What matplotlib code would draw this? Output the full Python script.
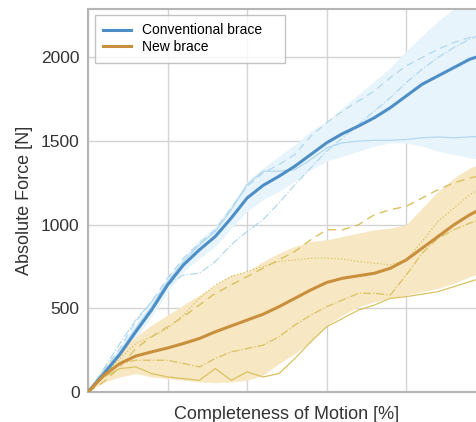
import numpy as np
import matplotlib
matplotlib.use("Agg")
import matplotlib.pyplot as plt

plt.rcParams['font.family'] = ['Liberation Sans', 'DejaVu Sans']

# completeness of motion [%]
x = [0, 4, 8, 12, 16, 20, 24, 28, 32, 36, 40, 44, 48, 52, 56, 60, 64, 68, 72, 76, 80, 84, 88, 92, 96, 100]

# Conventional brace
conv_mean = [0, 110, 225, 360, 491, 640, 760, 850, 930, 1040, 1160, 1235, 1290, 1350, 1420, 1490,
             1545, 1590, 1640, 1700, 1770, 1840, 1890, 1940, 1990, 2020]
conv_upper = [0, 140, 270, 410, 540, 690, 810, 910, 990, 1120, 1260, 1340, 1410, 1480, 1560, 1620,
              1700, 1780, 1860, 1940, 2040, 2130, 2220, 2290, 2330, 2370]
conv_lower = [0, 90, 190, 320, 450, 600, 720, 800, 870, 980, 1080, 1150, 1200, 1260, 1330, 1380,
              1410, 1440, 1470, 1490, 1490, 1470, 1440, 1420, 1400, 1390]
conv_dash = [0, 130, 260, 420, 540, 680, 800, 890, 970, 1100, 1230, 1310, 1360, 1420, 1530, 1610,
             1680, 1740, 1800, 1880, 1950, 2000, 2050, 2090, 2120, 2140]
conv_solid = [0, 120, 240, 380, 510, 660, 780, 880, 960, 1090, 1240, 1320, 1320, 1330, 1390, 1460,
              1490, 1500, 1505, 1505, 1510, 1520, 1525, 1520, 1525, 1530]
conv_dashdot = [0, 140, 290, 430, 540, 640, 700, 710, 780, 880, 960, 1030, 1130, 1240, 1340, 1440,
                1520, 1600, 1680, 1760, 1850, 1930, 2000, 2060, 2110, 2150]

# New brace
new_mean = [0, 100, 170, 215, 240, 263, 290, 320, 360, 395, 430, 465, 510, 560, 610, 655,
            680, 695, 710, 740, 790, 860, 930, 1000, 1060, 1110]
new_upper = [0, 150, 250, 330, 400, 460, 520, 580, 640, 700, 720, 780, 830, 870, 900, 910,
             930, 950, 970, 980, 1000, 1100, 1200, 1280, 1340, 1380]
new_lower = [0, 60, 90, 110, 90, 80, 70, 60, 55, 60, 70, 100, 170, 230, 300, 400,
             460, 510, 540, 560, 580, 600, 620, 650, 690, 720]
new_dash = [0, 60, 150, 260, 330, 390, 450, 520, 590, 640, 690, 740, 790, 840, 910, 970,
            970, 1000, 1060, 1090, 1110, 1160, 1210, 1250, 1280, 1300]
new_dashdot1 = [0, 100, 200, 290, 330, 380, 460, 560, 640, 690, 720, 750, 780, 790, 800, 800,
                795, 780, 770, 760, 790, 900, 1020, 1100, 1180, 1240]
new_dashdot2 = [0, 100, 170, 190, 190, 190, 170, 150, 200, 240, 260, 280, 330, 400, 460, 510,
                550, 590, 590, 580, 700, 830, 920, 970, 1010, 1040]
new_solid = [0, 90, 140, 150, 110, 90, 80, 70, 140, 70, 120, 90, 110, 200, 300, 390,
             440, 490, 520, 560, 570, 585, 600, 630, 660, 690]

blue = "#4d8ec6"
blue_fill = "#e8f4fb"
blue_thin = "#b2d8ee"
orange = "#c98f3c"
orange_fill = "#f7e7c2"
orange_thin = "#d9c261"

fig = plt.figure(figsize=(4.77, 4.22), dpi=100)
ax = fig.add_axes([0.1845, 0.0711, 0.834, 0.9076])

ax.fill_between(x, conv_lower, conv_upper, color=blue_fill, lw=0, zorder=1)
ax.fill_between(x, new_lower, new_upper, color=orange_fill, lw=0, zorder=1)

ax.plot(x, conv_dash, color=blue_thin, lw=0.9, ls=(0, (6, 4)), zorder=2)
ax.plot(x, conv_solid, color=blue_thin, lw=0.9, zorder=2)
ax.plot(x, conv_dashdot, color=blue_thin, lw=0.9, ls='-.', zorder=2)

ax.plot(x, new_dash, color=orange_thin, lw=1.0, ls=(0, (6, 4)), zorder=2)
ax.plot(x, new_dashdot1, color=orange_thin, lw=0.9, ls=':', zorder=2)
ax.plot(x, new_dashdot2, color=orange_thin, lw=0.9, ls='-.', zorder=2)
ax.plot(x, new_solid, color=orange_thin, lw=0.9, zorder=2)

ax.plot(x, conv_mean, color=blue, lw=2.2, label="Conventional brace", zorder=3)
ax.plot(x, new_mean, color=orange, lw=2.2, label="New brace", zorder=3)

ax.set_xlim(0, 100)
ax.set_ylim(0, 2290)
ax.set_xticks([0, 20, 40, 60, 80, 100])
ax.set_xticklabels([])
ax.set_yticks([0, 500, 1000, 1500, 2000])
ax.tick_params(axis='both', length=0, labelsize=12.5, colors="#333333", pad=6)
ax.grid(True, color="#d4d4d4", lw=1.0, zorder=0)
ax.set_axisbelow(True)
for s in ['left', 'bottom', 'top']:
    ax.spines[s].set_color("#b5b5b5")
    ax.spines[s].set_linewidth(1.5)
ax.spines['right'].set_visible(False)

ax.set_ylabel("Absolute Force [N]", fontsize=13, color="#333333", labelpad=6)
ax.set_xlabel("Completeness of Motion [%]", fontsize=13, color="#333333", labelpad=4)

leg = ax.legend(loc='upper left', bbox_to_anchor=(0.0176, 0.861, 0.4776, 0.123),
                mode='expand', fontsize=10, frameon=True, fancybox=False,
                edgecolor="#b5b5b5", borderaxespad=0, handlelength=2.0,
                borderpad=0.6, labelspacing=0.2, handletextpad=0.8)
leg.get_frame().set_linewidth(1.0)

fig.savefig("out.png", dpi=100)
